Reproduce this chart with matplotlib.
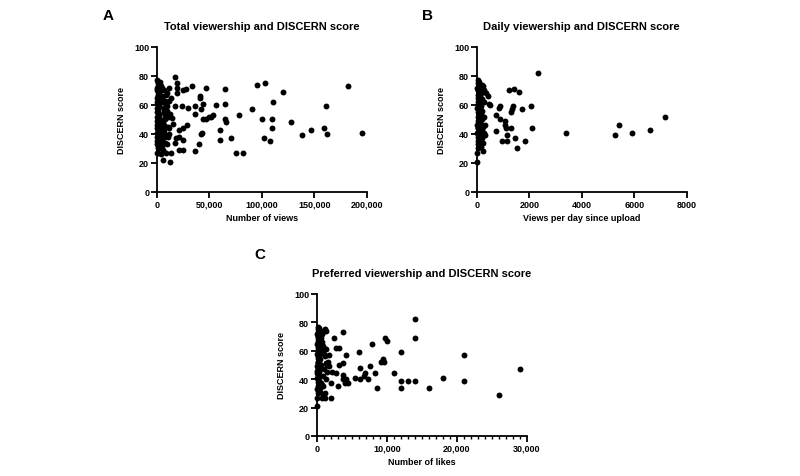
import matplotlib
matplotlib.use("Agg")
import matplotlib.pyplot as plt
from matplotlib.ticker import FuncFormatter, MultipleLocator

plt.rcParams['font.family'] = ['Liberation Sans', 'DejaVu Sans']
plt.rcParams['font.weight'] = 'bold'

# ---- panel A: total views vs DISCERN score ----
a_far_x = [182000, 195000, 161000, 159000, 162000, 147000, 138000, 128000, 120000, 111000,
           110000, 110000, 108000, 103000, 100000, 102000, 95000, 91000, 78000, 75000,
           82000, 71000, 65000, 65000, 65000, 66000, 60000, 60000, 56000, 53500,
           51300, 49700, 47000, 47000, 44300, 41400, 40800, 44300, 41700, 43000,
           42000, 40100, 36300, 36300, 36300, 33800, 29600, 28700, 28000, 24800,
           24200, 24500, 25200, 25200, 20700, 21000, 21000, 19700, 18800, 18800,
           17200, 17200, 18200, 16900, 14600, 15000, 13400, 12700, 11500, 11500,
           12100, 11800, 10800, 9900, 5700, 8900, 3800, 1000]
a_far_y = [73, 41, 59, 44, 40, 43, 39, 48, 69, 62,
           50, 44, 35, 75, 50, 37, 74, 57, 53, 27,
           27, 37, 71, 61, 50, 48, 43, 36, 60, 53,
           52, 52, 72, 50, 50, 66, 65, 61, 57, 41,
           40, 33, 59, 54, 28, 73, 58, 46, 71, 70,
           59, 44, 29, 36, 43, 38, 29, 72, 68, 75,
           79, 59, 37, 34, 51, 47, 27, 21, 72, 63,
           54, 44, 38, 33, 22, 27, 30, 27]
a_band_x = [300, 800, 1500, 400, 2200, 600, 1200, 2800, 500, 1800, 900, 300, 2500, 1100, 700,
            1600, 200, 2000, 1300, 400, 3000, 900, 600, 1700, 2400, 500, 1000, 1400, 300, 2100,
            800, 1900, 600, 1200, 2600, 400, 1500, 700, 2300, 1000, 500, 1800, 300, 1100, 2700,
            800, 1300, 600, 2000, 400, 900, 1600, 2200, 700, 1200]
a_band_y = [27, 30, 32, 33, 34, 35, 36, 37, 38, 39, 40, 41, 42, 43, 44,
            45, 46, 47, 48, 49, 50, 51, 52, 53, 54, 55, 56, 57, 58, 59,
            60, 61, 62, 63, 64, 65, 66, 67, 68, 69, 70, 71, 72, 73, 74,
            75, 76, 77, 31, 44, 52, 58, 64, 70, 48]
a_mid_x = [3500, 4200, 5000, 5800, 6500, 7200, 8000, 3800, 4600, 5400, 6200, 7000, 7800, 8600,
           9400, 10200, 4000, 4800, 5600, 6400, 7400, 8400, 9600, 10800, 3300, 4400, 5200, 6000,
           6900, 7600, 9000, 12000, 13500, 3600, 5000, 6600, 8200, 9800, 4300, 7000]
a_mid_y = [76, 70, 66, 62, 58, 55, 50, 73, 64, 47, 44, 41, 38, 60,
           56, 52, 35, 32, 29, 57, 63, 67, 68, 45, 42, 39, 72, 49,
           46, 53, 61, 40, 65, 48, 36, 43, 34, 59, 26, 70]

# ---- panel B: views per day vs DISCERN score ----
b_far_x = [2320, 3390, 2060, 2100, 1840, 1520, 1470, 1710, 1610, 1420, 1240, 1360, 1330,
           1300, 1320, 1160, 1090, 1080, 1100, 1140, 970, 880, 860, 890, 720, 740, 510,
           460, 430, 360, 330, 330, 240, 7180, 6590, 5920, 5410, 5260]
b_far_y = [82, 41, 59, 44, 35, 30, 37, 57, 69, 71, 70, 59, 57,
           55, 44, 39, 46, 49, 44, 35, 35, 50, 58, 59, 42, 53, 60,
           61, 66, 68, 46, 39, 28, 52, 43, 41, 46, 39]
b_band_x = [20, 60, 110, 30, 160, 50, 90, 200, 40, 130, 70, 20, 180, 80, 50,
            120, 10, 150, 100, 30, 210, 70, 40, 130, 170, 40, 80, 100, 20, 160,
            60, 140, 40, 90, 190, 30, 110, 50, 170, 80, 40, 130, 20, 80, 200,
            60, 100, 40, 150, 30, 70, 120, 160, 50, 90, 240, 260, 220, 280, 250,
            0, 230, 270, 210, 290]
b_band_y = [27, 30, 32, 33, 34, 35, 36, 37, 38, 39, 40, 41, 42, 43, 44,
            45, 46, 47, 48, 49, 50, 51, 52, 53, 54, 55, 56, 57, 58, 59,
            60, 61, 62, 63, 64, 65, 66, 67, 68, 69, 70, 71, 72, 73, 74,
            75, 76, 77, 31, 44, 52, 58, 64, 70, 48, 73, 52, 39, 62, 45,
            21, 34, 70, 56, 41]

# ---- panel C: likes vs DISCERN score ----
c_far_x = [29000, 26000, 21000, 21000, 18000, 16000, 14000, 14000, 14000, 13000, 12000,
           12000, 12000, 11000, 9700, 10000, 9400, 9600, 9100, 8600, 8300, 7900, 7600,
           7300, 6800, 6900, 6200, 6000, 6100, 5400, 4200, 3800, 4200, 4400, 4000, 3800,
           3800, 3700, 3000, 3100, 2700, 3100, 2800, 2500, 2000, 2000, 2100, 1800, 1300]
c_far_y = [47, 29, 57, 39, 41, 34, 82, 69, 39, 39, 59,
           39, 34, 44, 69, 67, 54, 52, 52, 34, 44, 65, 49,
           40, 42, 44, 40, 59, 48, 41, 57, 73, 40, 37, 37, 43,
           51, 40, 35, 50, 44, 62, 62, 69, 27, 37, 45, 57, 74]
c_band_x = [50, 150, 300, 80, 450, 120, 250, 550, 100, 350, 180, 60, 500, 220, 140,
            320, 40, 400, 260, 90, 600, 170, 110, 340, 480, 100, 200, 280, 60, 420,
            160, 380, 120, 240, 520, 80, 300, 140, 460, 200, 100, 360, 60, 220, 540,
            160, 260, 120, 400, 80, 180, 320, 440, 140, 240, 0]
c_band_y = [27, 30, 32, 33, 34, 35, 36, 37, 38, 39, 40, 41, 42, 43, 44,
            45, 46, 47, 48, 49, 50, 51, 52, 53, 54, 55, 56, 57, 58, 59,
            60, 61, 62, 63, 64, 65, 66, 67, 68, 69, 70, 71, 72, 73, 74,
            75, 76, 77, 31, 44, 52, 58, 64, 70, 48, 21]
c_mid_x = [700, 900, 1100, 800, 1000, 1200, 750, 950, 1400, 1600, 850, 1050, 1300, 700,
           900, 1500, 1100, 800, 1250, 1700, 650, 1000, 1350, 1150]
c_mid_y = [27, 28, 27, 72, 74, 75, 60, 63, 50, 52, 42, 47, 51, 36,
           35, 45, 56, 66, 40, 49, 69, 58, 61, 30]

fig = plt.figure(figsize=(8, 4.77), dpi=100)
axA = fig.add_axes([0.196, 0.5954, 0.2625, 0.304])
axB = fig.add_axes([0.596, 0.5954, 0.2625, 0.304])
axC = fig.add_axes([0.396, 0.0839, 0.2625, 0.298])

comma = FuncFormatter(lambda v, p: f"{int(v):,}")


def style(ax, title, xlabel, xmax, xstep, fmt=None, minor=None):
    ax.set_xlim(0, xmax)
    ax.set_ylim(0, 100)
    ax.xaxis.set_major_locator(MultipleLocator(xstep))
    ax.yaxis.set_major_locator(MultipleLocator(20))
    if fmt is not None:
        ax.xaxis.set_major_formatter(fmt)
    if minor is not None:
        ax.xaxis.set_minor_locator(MultipleLocator(minor))
        ax.tick_params(axis='x', which='minor', length=2.5, width=1.0)
    for s in ['top', 'right']:
        ax.spines[s].set_visible(False)
    for s in ['left', 'bottom']:
        ax.spines[s].set_linewidth(1.3)
    ax.tick_params(which='major', length=4, width=1.3, labelsize=6.5, pad=1.5)
    ax.set_title(title, fontsize=8, fontweight='bold', pad=13)
    ax.set_xlabel(xlabel, fontsize=6.5, fontweight='bold', labelpad=3.5)
    ax.set_ylabel('DISCERN score', fontsize=6.5, fontweight='bold', labelpad=6)


kw = dict(s=18, color='black', linewidths=0, clip_on=False, zorder=3)
axA.scatter(a_far_x + a_band_x + a_mid_x, a_far_y + a_band_y + a_mid_y, **kw)
axB.scatter(b_far_x + b_band_x, b_far_y + b_band_y, **kw)
axC.scatter(c_far_x + c_band_x + c_mid_x, c_far_y + c_band_y + c_mid_y, **kw)

style(axA, 'Total viewership and DISCERN score', 'Number of views', 200000, 50000, comma)
style(axB, 'Daily viewership and DISCERN score', 'Views per day since upload', 8000, 2000)
style(axC, 'Preferred viewership and DISCERN score', 'Number of likes', 30000, 10000, comma, 1000)

fig.text(0.128, 0.9675, 'A', fontsize=11, fontweight='bold', ha='left', va='center')
fig.text(0.528, 0.9675, 'B', fontsize=11, fontweight='bold', ha='left', va='center')
fig.text(0.318, 0.465, 'C', fontsize=11, fontweight='bold', ha='left', va='center')

fig.savefig('out.png', dpi=100, facecolor='white')
